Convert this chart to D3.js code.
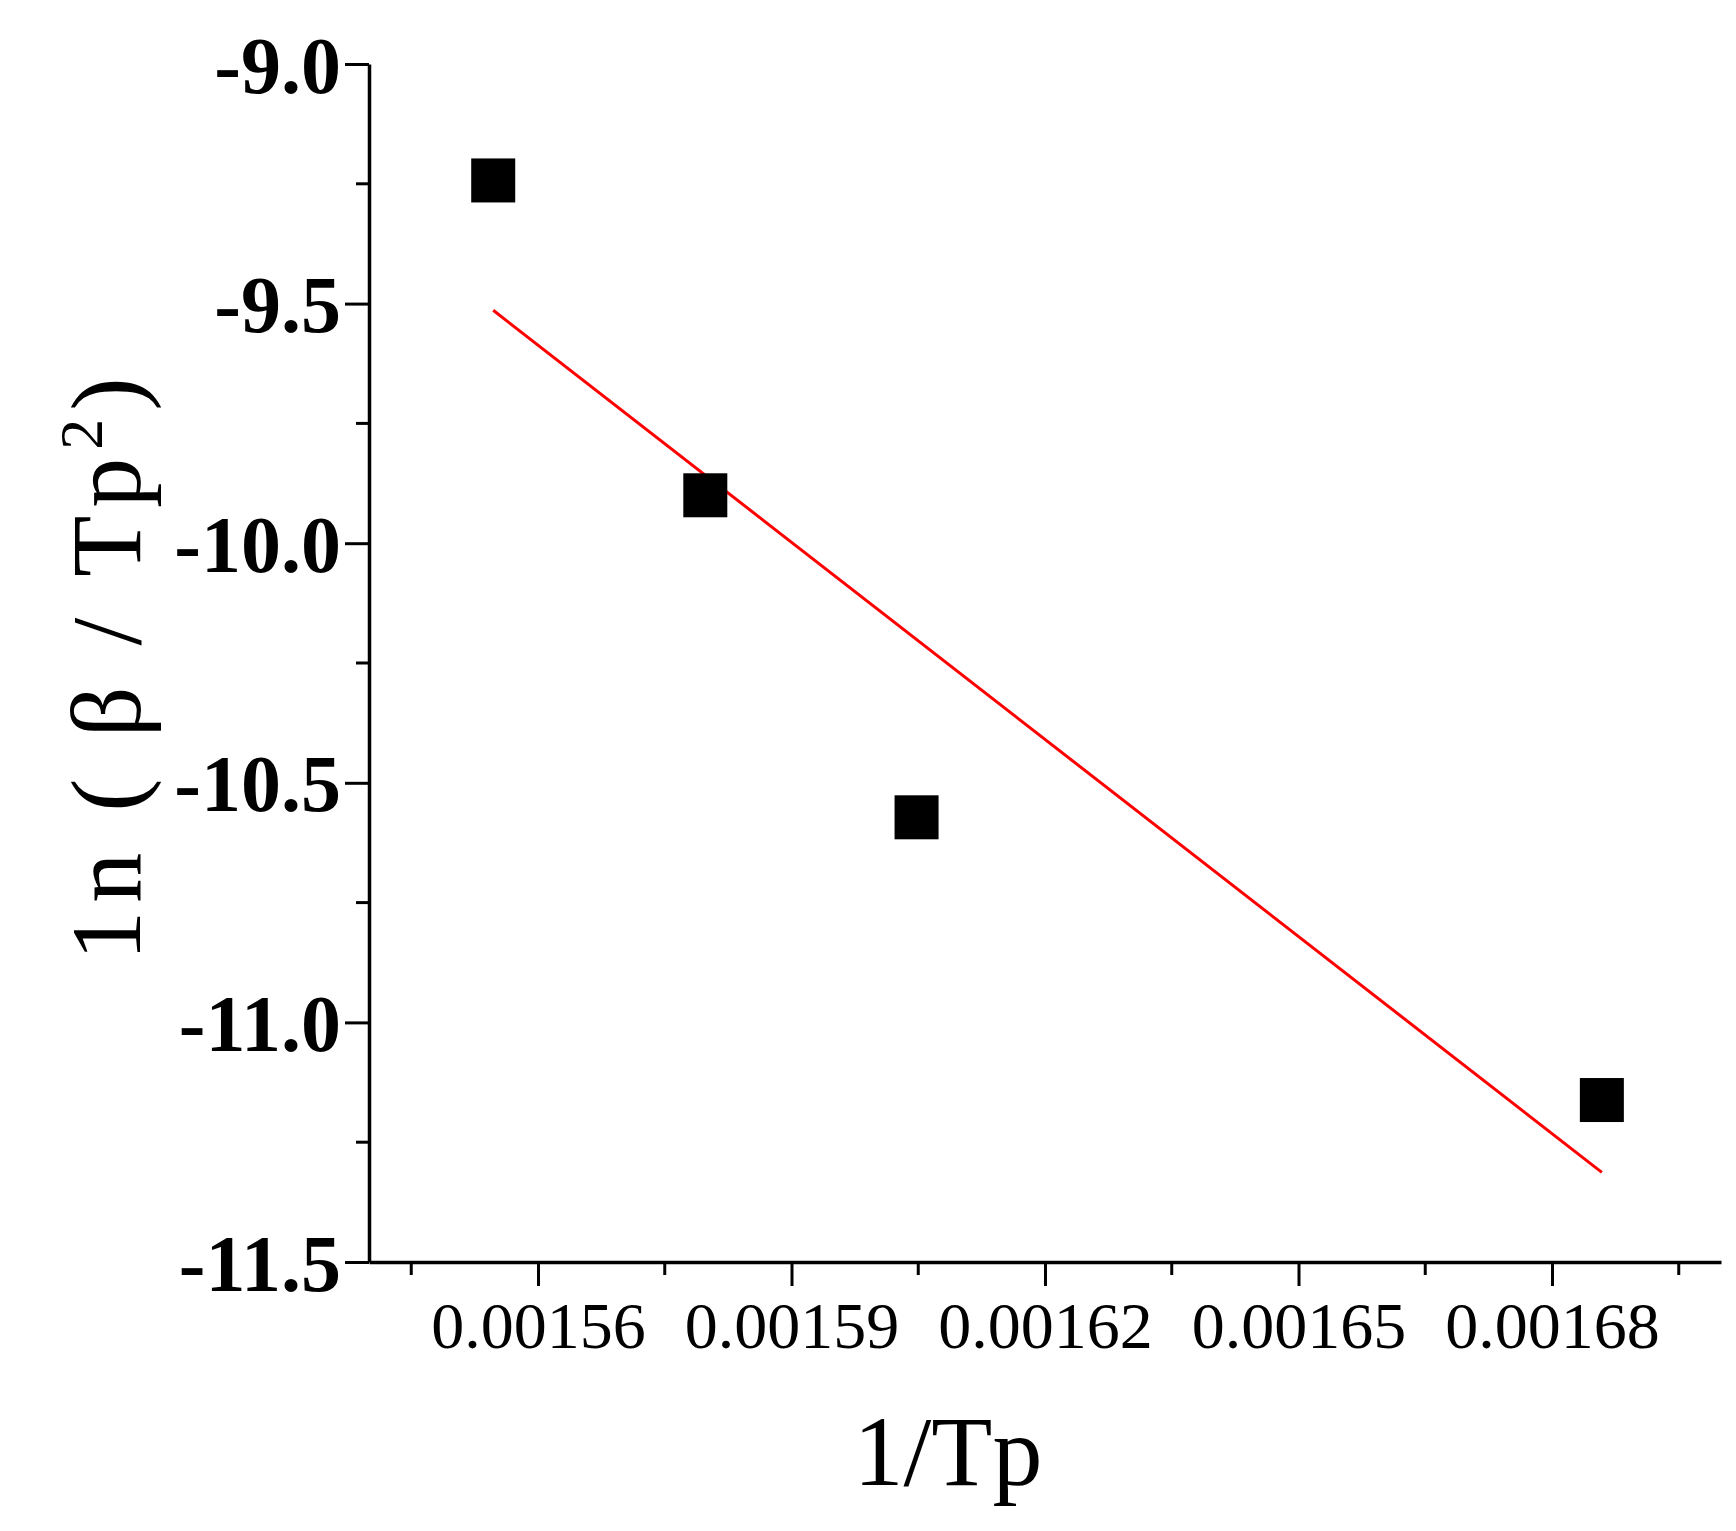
<!DOCTYPE html>
<html><head><meta charset="utf-8">
<script src="https://cdn.jsdelivr.net/npm/d3@7"></script>
<style>body{margin:0;background:#fff}</style>
</head><body><div id="container"></div>
<script>
const xVals = [0.0015547, 0.0015798, 0.0016048, 0.0016859];
const yVals = [-9.243, -9.90, -10.572, -11.162];
const fitX = [0.0015547, 0.0016859];
const fitY = [-9.514, -11.313];
const xTicks = [0.00156, 0.00159, 0.00162, 0.00165, 0.00168];
const xMinor = [0.001545, 0.001575, 0.001605, 0.001635, 0.001665, 0.001695];
const yTicks = [-9.0, -9.5, -10.0, -10.5, -11.0, -11.5];
const yMinor = [-9.25, -9.75, -10.25, -10.75, -11.25];

const W = 1736, H = 1531;
const m = {left: 369, top: 64, right: 15, bottom: 269};
const svg = d3.select("#container").append("svg").attr("width", W).attr("height", H);

const x = d3.scaleLinear().domain([0.00154, 0.0017]).range([m.left, W - m.right]);
const y = d3.scaleLinear().domain([-11.5, -9.0]).range([H - m.bottom, m.top]);

// minor ticks
svg.append("g").selectAll("line").data(xMinor).enter().append("line")
    .attr("x1", d => x(d)).attr("x2", d => x(d))
    .attr("y1", H - m.bottom).attr("y2", H - m.bottom + 13)
    .attr("stroke", "#000").attr("stroke-width", 3);
svg.append("g").selectAll("line").data(yMinor).enter().append("line")
    .attr("x1", m.left).attr("x2", m.left - 13)
    .attr("y1", d => y(d)).attr("y2", d => y(d))
    .attr("stroke", "#000").attr("stroke-width", 3);

const xAxis = svg.append("g").attr("transform", `translate(0,${H - m.bottom})`)
    .call(d3.axisBottom(x).tickValues(xTicks).tickFormat(d3.format(".5f")).tickSize(24).tickSizeOuter(0));
const yAxis = svg.append("g").attr("transform", `translate(${m.left},0)`)
    .call(d3.axisLeft(y).tickValues(yTicks).tickFormat(d3.format(".1f")).tickSize(24).tickSizeOuter(0));
[xAxis, yAxis].forEach(a => {
    a.select(".domain").attr("stroke-width", 3.5);
    a.selectAll(".tick line").attr("stroke-width", 3);
});
xAxis.selectAll("text").attr("font-family", "Liberation Serif").attr("font-size", 66)
    .attr("dy", "0.9em").attr("fill", "#000")
    .text(d => d3.format(".5f")(d));
yAxis.selectAll("text").attr("font-family", "Liberation Serif").attr("font-weight", "bold")
    .attr("font-size", 80).attr("x", -28).attr("dy", "0.35em").attr("fill", "#000")
    .text(d => d3.format(".1f")(d).replace("−", "-"));

// fit line
svg.append("line")
    .attr("x1", x(fitX[0])).attr("y1", y(fitY[0]))
    .attr("x2", x(fitX[1])).attr("y2", y(fitY[1]))
    .attr("stroke", "#ff0000").attr("stroke-width", 3);

// points
const s = 44;
svg.append("g").selectAll("rect").data(xVals).enter().append("rect")
    .attr("x", d => x(d) - s / 2).attr("y", (d, i) => y(yVals[i]) - s / 2)
    .attr("width", s).attr("height", s).attr("fill", "#000");

// titles
svg.append("text").attr("x", 948).attr("y", 1485)
    .attr("text-anchor", "middle").attr("font-family", "Liberation Serif")
    .attr("font-size", 100).text("1/Tp");
const yt = svg.append("text").attr("transform", "translate(140,665) rotate(-90)")
    .attr("text-anchor", "middle").attr("font-family", "Liberation Serif")
    .attr("font-size", 100).attr("letter-spacing", 8);
yt.append("tspan").text("1n ( β   / Tp");
yt.append("tspan").attr("font-size", 62).attr("dy", -38).text("2");
yt.append("tspan").attr("dy", 38).text(")");
</script>
</body></html>
